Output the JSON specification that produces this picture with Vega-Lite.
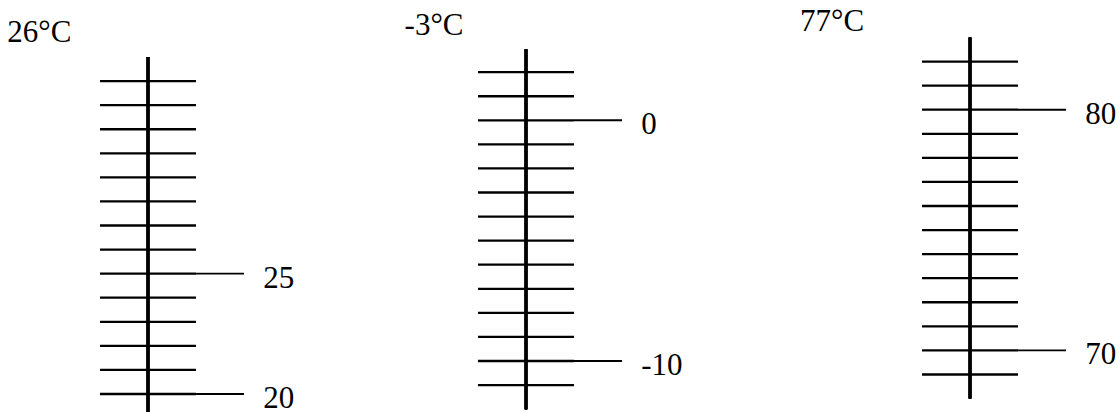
{
  "$schema": "https://vega.github.io/schema/vega-lite/v6.json",
  "padding": 0,
  "spacing": 0,
  "bounds": "flush",
  "background": "white",
  "config": {
    "view": {"stroke": null},
    "rule": {"color": "black"}
  },
  "datasets": {
    "p1": [
      {"value": 20, "label": "20"}, {"value": 21}, {"value": 22}, {"value": 23}, {"value": 24},
      {"value": 25, "label": "25"}, {"value": 26}, {"value": 27}, {"value": 28}, {"value": 29},
      {"value": 30}, {"value": 31}, {"value": 32}, {"value": 33}
    ],
    "p2": [
      {"value": -11}, {"value": -10, "label": "-10"}, {"value": -9}, {"value": -8}, {"value": -7},
      {"value": -6}, {"value": -5}, {"value": -4}, {"value": -3}, {"value": -2},
      {"value": -1}, {"value": 0, "label": "0"}, {"value": 1}, {"value": 2}
    ],
    "p3": [
      {"value": 69}, {"value": 70, "label": "70"}, {"value": 71}, {"value": 72}, {"value": 73},
      {"value": 74}, {"value": 75}, {"value": 76}, {"value": 77}, {"value": 78},
      {"value": 79}, {"value": 80, "label": "80"}, {"value": 81}, {"value": 82}
    ],
    "t1": [{"reading": "26°C"}],
    "t2": [{"reading": "-3°C"}],
    "t3": [{"reading": "77°C"}]
  },
  "hconcat": [
    {
      "width": 373,
      "height": 412,
      "layer": [
        {
          "data": {"name": "p1"},
          "mark": {"type": "rule", "strokeWidth": 2.3, "clip": true, "color": "black"},
          "encoding": {
            "x": {"datum": 0, "type": "quantitative", "axis": null,
                  "scale": {"domain": [-3.0833, 4.6875], "nice": false, "zero": false}},
            "y": {"datum": 19, "type": "quantitative", "axis": null,
                  "scale": {"domain": [19.252, 36.369], "nice": false, "zero": false}},
            "y2": {"datum": 34}
          }
        },
        {
          "data": {"name": "p1"},
          "mark": {"type": "rule", "strokeWidth": 2.3, "color": "black"},
          "encoding": {
            "y": {"field": "value", "type": "quantitative"},
            "x": {"datum": -1, "type": "quantitative"}, "x2": {"datum": 1}
          }
        },
        {
          "data": {"name": "p1"},
          "transform": [{"filter": "isValid(datum.label)"}],
          "mark": {"type": "rule", "strokeWidth": 1.9, "color": "black"},
          "encoding": {
            "y": {"field": "value", "type": "quantitative"},
            "x": {"datum": 1, "type": "quantitative"}, "x2": {"datum": 2}
          }
        },
        {
          "data": {"name": "p1"},
          "transform": [{"filter": "isValid(datum.label)"}],
          "mark": {"type": "text", "align": "left", "baseline": "alphabetic", "dy": 14,
                   "font": "Times New Roman, Liberation Serif, serif", "fontSize": 31, "color": "black"},
          "encoding": {
            "y": {"field": "value", "type": "quantitative"},
            "x": {"datum": 2.4, "type": "quantitative"},
            "text": {"field": "label", "type": "nominal"}
          }
        },
        {
          "data": {"name": "t1"},
          "mark": {"type": "text", "align": "left", "baseline": "alphabetic",
                   "font": "Times New Roman, Liberation Serif, serif", "fontSize": 31, "color": "black"},
          "encoding": {
            "x": {"datum": -2.93, "type": "quantitative"},
            "y": {"datum": 34.61, "type": "quantitative"},
            "text": {"field": "reading", "type": "nominal"}
          }
        }
      ]
    },
    {
      "width": 373,
      "height": 412,
      "layer": [
        {
          "data": {"name": "p2"},
          "mark": {"type": "rule", "strokeWidth": 2.3, "clip": true, "color": "black"},
          "encoding": {
            "x": {"datum": 0, "type": "quantitative", "axis": null,
                  "scale": {"domain": [-3.1875, 4.583], "nice": false, "zero": false}},
            "y": {"datum": -12, "type": "quantitative", "axis": null,
                  "scale": {"domain": [-12.119, 4.998], "nice": false, "zero": false}},
            "y2": {"datum": 2.95}
          }
        },
        {
          "data": {"name": "p2"},
          "mark": {"type": "rule", "strokeWidth": 2.3, "color": "black"},
          "encoding": {
            "y": {"field": "value", "type": "quantitative"},
            "x": {"datum": -1, "type": "quantitative"}, "x2": {"datum": 1}
          }
        },
        {
          "data": {"name": "p2"},
          "transform": [{"filter": "isValid(datum.label)"}],
          "mark": {"type": "rule", "strokeWidth": 1.9, "color": "black"},
          "encoding": {
            "y": {"field": "value", "type": "quantitative"},
            "x": {"datum": 1, "type": "quantitative"}, "x2": {"datum": 2}
          }
        },
        {
          "data": {"name": "p2"},
          "transform": [{"filter": "isValid(datum.label)"}],
          "mark": {"type": "text", "align": "left", "baseline": "alphabetic", "dy": 14,
                   "font": "Times New Roman, Liberation Serif, serif", "fontSize": 31, "color": "black"},
          "encoding": {
            "y": {"field": "value", "type": "quantitative"},
            "x": {"datum": 2.4, "type": "quantitative"},
            "text": {"field": "label", "type": "nominal"}
          }
        },
        {
          "data": {"name": "t2"},
          "mark": {"type": "text", "align": "left", "baseline": "alphabetic",
                   "font": "Times New Roman, Liberation Serif, serif", "fontSize": 31, "color": "black"},
          "encoding": {
            "x": {"datum": -2.53, "type": "quantitative"},
            "y": {"datum": 3.54, "type": "quantitative"},
            "text": {"field": "reading", "type": "nominal"}
          }
        }
      ]
    },
    {
      "width": 373,
      "height": 412,
      "layer": [
        {
          "data": {"name": "p3"},
          "mark": {"type": "rule", "strokeWidth": 2.3, "clip": true, "color": "black"},
          "encoding": {
            "x": {"datum": 0, "type": "quantitative", "axis": null,
                  "scale": {"domain": [-4.667, 3.104], "nice": false, "zero": false}},
            "y": {"datum": 68, "type": "quantitative", "axis": null,
                  "scale": {"domain": [67.441, 84.558], "nice": false, "zero": false}},
            "y2": {"datum": 83}
          }
        },
        {
          "data": {"name": "p3"},
          "mark": {"type": "rule", "strokeWidth": 2.3, "color": "black"},
          "encoding": {
            "y": {"field": "value", "type": "quantitative"},
            "x": {"datum": -1, "type": "quantitative"}, "x2": {"datum": 1}
          }
        },
        {
          "data": {"name": "p3"},
          "transform": [{"filter": "isValid(datum.label)"}],
          "mark": {"type": "rule", "strokeWidth": 1.9, "color": "black"},
          "encoding": {
            "y": {"field": "value", "type": "quantitative"},
            "x": {"datum": 1, "type": "quantitative"}, "x2": {"datum": 2}
          }
        },
        {
          "data": {"name": "p3"},
          "transform": [{"filter": "isValid(datum.label)"}],
          "mark": {"type": "text", "align": "left", "baseline": "alphabetic", "dy": 14,
                   "font": "Times New Roman, Liberation Serif, serif", "fontSize": 31, "color": "black"},
          "encoding": {
            "y": {"field": "value", "type": "quantitative"},
            "x": {"datum": 2.4, "type": "quantitative"},
            "text": {"field": "label", "type": "nominal"}
          }
        },
        {
          "data": {"name": "t3"},
          "mark": {"type": "text", "align": "left", "baseline": "alphabetic",
                   "font": "Times New Roman, Liberation Serif, serif", "fontSize": 31, "color": "black"},
          "encoding": {
            "x": {"datum": -3.54, "type": "quantitative"},
            "y": {"datum": 83.28, "type": "quantitative"},
            "text": {"field": "reading", "type": "nominal"}
          }
        }
      ]
    }
  ]
}
